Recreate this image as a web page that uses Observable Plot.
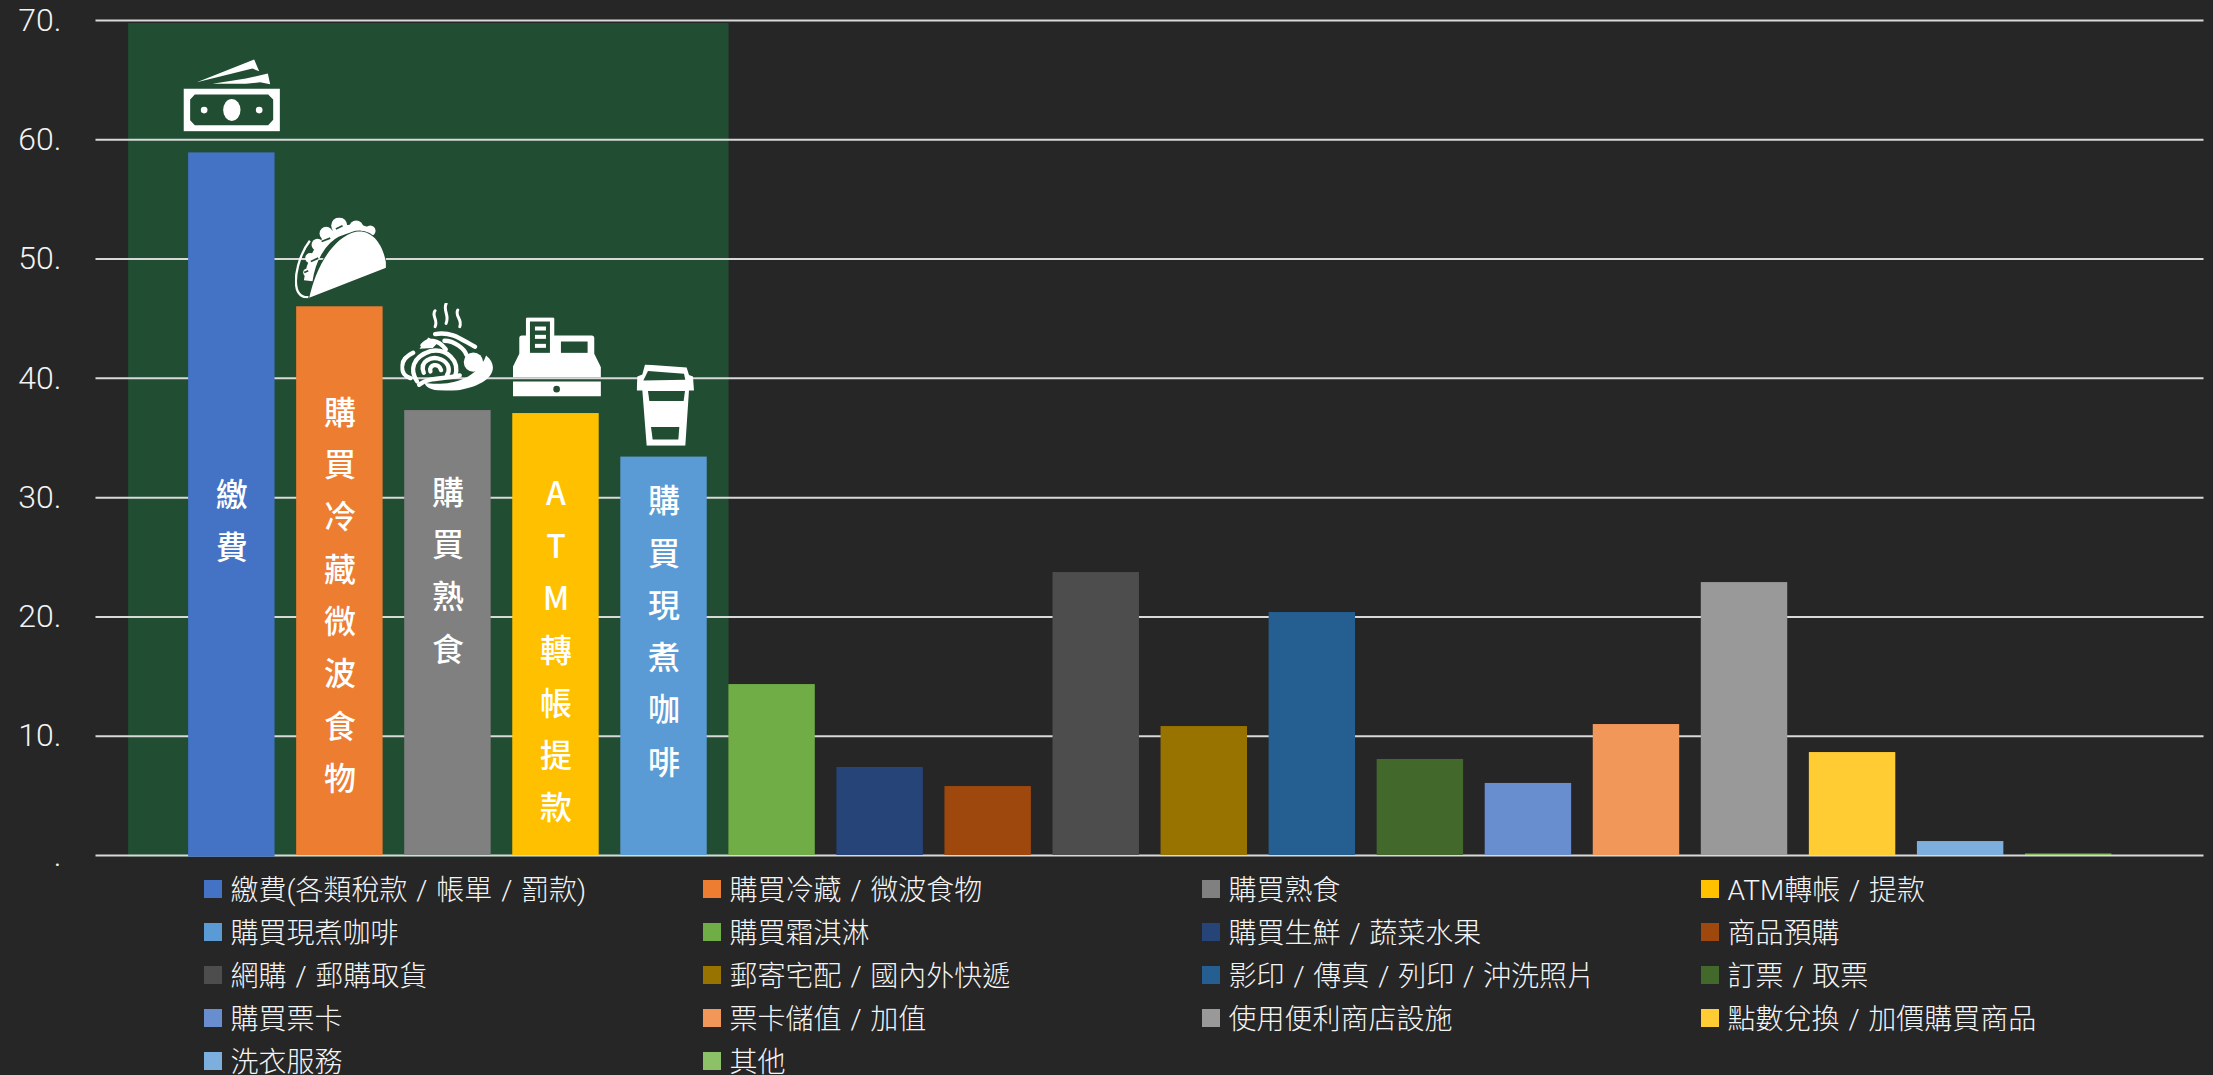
<!DOCTYPE html>
<html lang="zh-Hant">
<head>
<meta charset="utf-8">
<script src="https://cdn.jsdelivr.net/npm/d3@7"></script>
<script src="https://cdn.jsdelivr.net/npm/@observablehq/plot@0.6"></script>
<style>
html,body{margin:0;padding:0;background:#262626;width:2213px;height:1075px;overflow:hidden}
svg{display:block}
#legend{display:grid;grid-template-columns:repeat(4,499px);grid-auto-rows:43px;margin-left:204px;margin-top:-3px;
  font-family:Roboto,"Noto Sans CJK TC","Noto Sans",sans-serif;font-size:28px;font-weight:300;color:#f4f4f4;word-spacing:2px;line-height:.85}
#legend div{display:flex;align-items:center;white-space:pre}
#legend i{display:block;width:18px;height:18px;margin-right:8.6px;flex:none}
#legend span{position:relative;top:2.5px}
</style>
</head>
<body>
<div id="chart"></div>
<div id="legend"></div>
<script>
const categories = ["繳費(各類稅款 / 帳單 / 罰款)","購買冷藏 / 微波食物","購買熟食","ATM轉帳 / 提款","購買現煮咖啡","購買霜淇淋","購買生鮮 / 蔬菜水果","商品預購","網購 / 郵購取貨","郵寄宅配 / 國內外快遞","影印 / 傳真 / 列印 / 沖洗照片","訂票 / 取票","購買票卡","票卡儲值 / 加值","使用便利商店設施","點數兌換 / 加價購買商品","洗衣服務","其他"];
const values = [58.9,46.0,37.3,37.05,33.4,14.33,7.38,5.78,23.72,10.81,20.37,8.05,6.04,10.98,22.88,8.63,1.17,0.12];
const colors = ["#4472c4","#ed7d31","#808080","#ffc000","#5b9bd5","#70ad47","#264478","#9e480e","#4d4d4d","#997300","#255e91","#43682b","#698ed0","#f1975a","#999999","#ffcd33","#7cafdd","#8cc168"];
const barLabels = ["繳費","購買冷藏微波食物","購買熟食","ATM轉帳提款","購買現煮咖啡"];
const yTicks = [0,10,20,30,40,50,60,70];

const GREEN = "#214d33";
const WHITE = "#fff";
const uri = s => "data:image/svg+xml," + encodeURIComponent(s);
const svg = (vb, body) => `<svg xmlns="http://www.w3.org/2000/svg" viewBox="${vb}" preserveAspectRatio="none">${body}</svg>`;

const iconMoney = svg("38 25 290 219", `
<path fill="${WHITE}" fill-rule="evenodd" d="M38 115H327V243H38ZM72 132L58 147V210L72 225H292L307 208V147L292 132Z"/>
<circle cx="100" cy="179" r="10" fill="${WHITE}"/><circle cx="265" cy="179" r="10" fill="${WHITE}"/>
<ellipse cx="183" cy="179" rx="26" ry="33" fill="${WHITE}"/>
<path fill="${WHITE}" d="M78 95L250 27L265 62L245 54ZM125 100L225 84L291 69L298 101L268 95L225 100Z"/>`);

const iconTaco = svg("372 500 273 242", `
<path fill="none" stroke="${WHITE}" stroke-width="7" d="M417 570C385 610 368 680 378 715C385 738 405 742 418 738"/>
<path fill="none" stroke="${WHITE}" stroke-width="26" d="M412 690C420 630 450 570 500 545C545 525 585 535 605 552"/>
<g fill="${WHITE}"><circle cx="505" cy="524" r="24"/><circle cx="556" cy="530" r="21"/><circle cx="598" cy="540" r="16"/>
<circle cx="466" cy="548" r="20"/><circle cx="440" cy="582" r="18"/><circle cx="418" cy="622" r="15"/><circle cx="408" cy="665" r="11"/></g>
<g fill="none" stroke="${GREEN}" stroke-width="5"><path d="M495 535L515 525"/><path d="M452 572L478 562"/><path d="M420 632L442 622"/><path d="M400 665L412 660"/></g>
<path fill="${WHITE}" stroke="${GREEN}" stroke-width="6" paint-order="stroke" d="M415 741C435 650 485 560 555 543C610 535 640 590 648 650Z"/>`);

const iconNoodle = svg("28 22 285 263", `
<g fill="none" stroke="${WHITE}" stroke-linecap="round">
<g stroke-width="9"><path d="M132 46C120 62 142 72 132 94"/><path d="M165 25C155 45 176 60 165 84"/><path d="M200 44C190 62 215 72 206 94"/></g>
<g stroke-width="13"><path d="M66 172C22 192 24 238 58 248"/><path d="M78 258C56 225 62 185 118 167C165 158 208 195 192 242"/>
<path d="M98 232C84 198 120 180 150 192C175 204 178 225 167 240"/><path d="M118 228C112 208 142 200 150 224"/>
<path d="M84 268C112 244 160 252 206 240"/><path d="M94 150C110 130 140 130 164 162"/>
<path d="M132 116C188 106 220 140 252 154"/><path d="M160 136C190 136 220 160 226 178"/></g></g>
<path fill="${WHITE}" d="M85 160L112 126L140 142L125 158Z"/>
<circle cx="247" cy="200" r="29" fill="${WHITE}"/>
<path fill="${WHITE}" d="M285 180C328 215 305 268 200 285C150 290 106 285 100 262C155 272 255 262 285 180Z"/>`);

const iconRegister = svg("365 65 265 238", `
<path fill="${WHITE}" fill-rule="evenodd" d="M365 258H630V303H365ZM497 271A10 10 0 1 0 497 291A10 10 0 1 0 497 271Z"/>
<path fill="${WHITE}" d="M365 245V215L385 175V128Q385 120 393 120H602Q610 120 610 128V175L630 215V245Z"/>
<rect x="405" y="66" width="85" height="114" rx="4" fill="${WHITE}"/>
<rect x="417" y="78" width="60" height="94" fill="${GREEN}"/>
<g fill="${WHITE}"><rect x="432" y="93" width="33" height="12"/><rect x="432" y="118" width="33" height="12"/><rect x="432" y="145" width="33" height="12"/></g>
<rect x="510" y="138" width="80" height="34" fill="${GREEN}"/>`);

const iconCup = svg("740 208 172 244", `
<path fill="${WHITE}" d="M765 208L890 217L897 240L909 244L912 286H897L886 452H770L757 286H740L742 244L757 238Z"/>
<g fill="${GREEN}"><path d="M774 228L882 236L886 254L760 256Z"/><path d="M774 288H885L881 318H778Z"/><path d="M783 396H868L865 433H788Z"/></g>`);

const rows = categories.map((name, i) => ({name, value: values[i], color: colors[i], floor: i === 0 ? -0.14 : 0}));
const first = rows[0].name;

const labelMarks = barLabels.map((t, i) => Plot.text([rows[i]], {
  x: "name", y: d => d.value / 2, text: () => Array.from(t).join("\n"),
  dy: [11.5, 9, -67.5, 11, -30][i],
  fill: "#fff", fontSize: 32, fontWeight: 500, lineHeight: 52.3 / 32, lineAnchor: "middle",
  fontFamily: '"Noto Sans CJK TC",sans-serif'
}));

const iconMarks = [
  [iconMoney, 96.7, 72.7, 0, -57.6],
  [iconTaco, 91, 80.7, 0.5, -49],
  [iconNoodle, 95, 87.7, 0, -64],
  [iconRegister, 88.3, 79.3, 0.8, -56.7],
  [iconCup, 57.3, 81.4, 1.3, -52]
].map(([src, width, height, dx, dy], i) => Plot.image([rows[i]], {
  x: "name", y: "value", src: () => uri(src), width, height, dx, dy, preserveAspectRatio: "none"
}));

const chart = Plot.plot({
  width: 2213, height: 870,
  marginLeft: 95.5, marginRight: 9.5, marginTop: 20, marginBottom: 15,
  style: {background: "#262626", overflow: "visible"},
  x: {type: "band", domain: categories, padding: 0.2, round: false, insetLeft: 71, insetRight: 70.5, axis: null},
  y: {domain: [0, 70], axis: null},
  color: {domain: categories, range: colors},
  marks: [
    Plot.barY([{name: first, y1: -0.14, y2: 69.75}], {x: "name", y1: "y1", y2: "y2", fill: GREEN, insetLeft: -60, insetRight: -454}),
    Plot.ruleY(yTicks, {stroke: "#d9d9d9", strokeWidth: 2}),
    Plot.axisY({ticks: yTicks, tickSize: 0, tickPadding: 34.5, tickFormat: d => (d ? d : "") + ".", label: null,
      fontSize: 32, fontFamily: 'Roboto,sans-serif', fontWeight: 300, fill: "#f2f2f2"}),
    Plot.barY(rows, {x: "name", y1: "floor", y2: "value", fill: "name"}),
    ...iconMarks,
    ...labelMarks
  ]
});
document.getElementById("chart").append(chart);

d3.select("#legend").selectAll("div").data(rows).join("div")
  .call(s => s.append("i").style("background", d => d.color))
  .call(s => s.append("span").text(d => d.name));
</script>
</body>
</html>
